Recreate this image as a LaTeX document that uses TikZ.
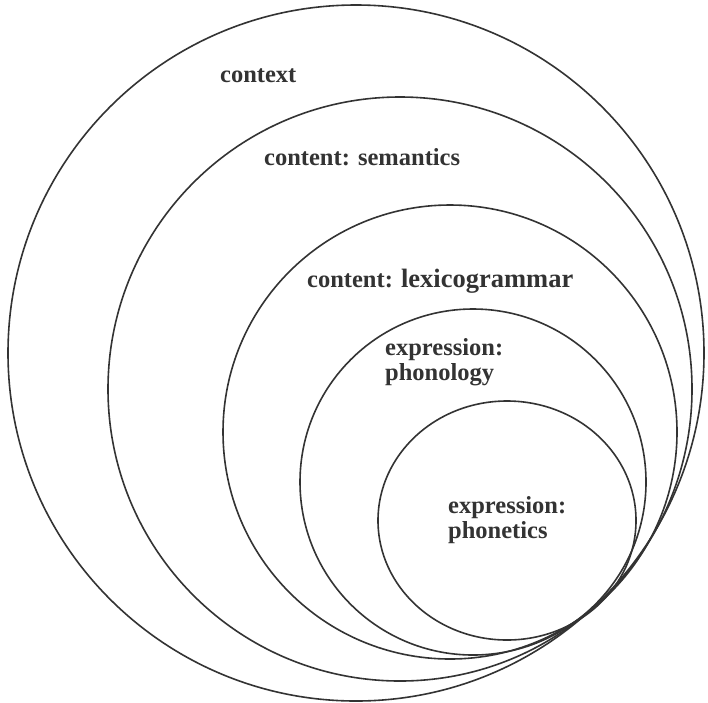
\documentclass[tikz,border=0pt]{standalone}
\usepackage{fontspec}
\setmainfont{Liberation Serif}
\usetikzlibrary{shapes.geometric}
\definecolor{ink}{HTML}{333333}
\begin{document}
\begin{tikzpicture}[x=1pt,y=-1pt,
  ring/.style={circle, draw=ink, line width=1.6pt, inner sep=0pt, minimum size=#1},
  oval/.style={ellipse, draw=ink, line width=1.6pt, inner sep=0pt},
  lab/.style={inner sep=0pt, text=ink, anchor=base west, align=left,
    font=\bfseries\fontsize{24.5}{24.5}\selectfont}]
\useasboundingbox (0,0) rectangle (708,702);
\fill[white] (0,0) rectangle (708,702);

% strata, all touching near the lower right
\node[ring=696pt] (ctx) at (356,353) {};
\node[ring=584pt] (sem) at (400,389) {};
\node[ring=454pt] (lex) at (450,432) {};
\node[ring=346pt] (phon) at (473,482) {};
\node[oval, minimum width=258pt, minimum height=239pt] (phonet) at (507,520.5) {};

% labels (multi-line labels are anchored on their last baseline)
\node[lab] (tctx) at (220,82) {context};
\node[lab] (tsem) at (264,165) {content: semantics};
\node[lab] (tlex) at (307,287) {content: {\fontsize{26.5}{26.5}\selectfont lexicogrammar}};
\node[lab] (tphon) at (385,380) {expression:\\phonology};
\node[lab] (tphonet) at (448,538) {expression:\\phonetics};
\end{tikzpicture}
\end{document}
